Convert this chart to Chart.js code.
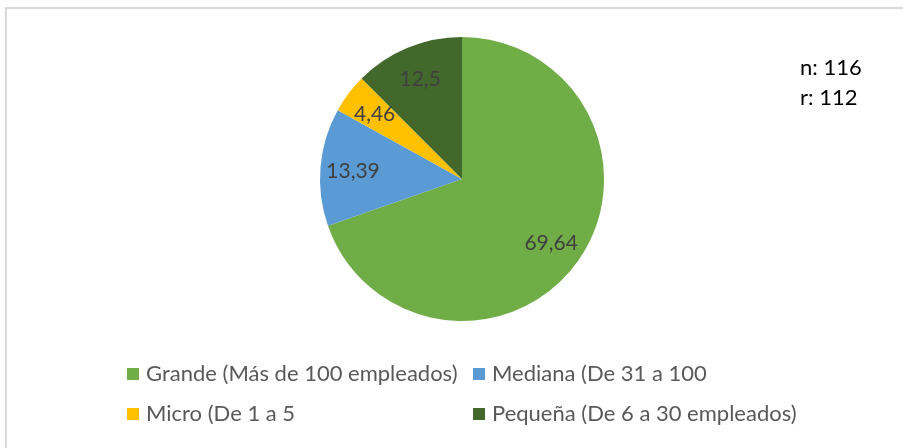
<!DOCTYPE html>
<html>
<head>
<meta charset="utf-8">
<script src="https://cdn.jsdelivr.net/npm/chart.js@4.4.0/dist/chart.umd.min.js"></script>
<style>
  html, body { margin: 0; padding: 0; background: #fff; overflow: hidden; }
  #wrap { position: relative; width: 903px; height: 448px; }
  #frame { position: absolute; left: 5px; top: 7px; width: 1000px; height: 1000px;
           border-left: 2px solid #d9d9d9; border-top: 2px solid #d9d9d9; }
  canvas { position: absolute; left: 0; top: 0; }
</style>
</head>
<body>
<div id="wrap">
  <div id="frame"></div>
  <canvas id="myChart" width="903" height="448"></canvas>
</div>
<script>
// pie data
var categories = ['Grande (Más de 100 empleados)', 'Mediana (De 31 a 100', 'Micro (De 1 a 5', 'Pequeña (De 6 a 30 empleados)'];
var values = [69.64, 13.39, 4.46, 12.5];
var valueLabels = ['69,64', '13,39', '4,46', '12,5'];
var colors = ['#70ad47', '#5b9bd5', '#ffc000', '#43682b'];
var notes = ['n: 116', 'r: 112'];

var fontFamily = 'Lato, "Open Sans", sans-serif';

// labels inside the slices
var sliceLabels = {
    id: 'sliceLabels',
    afterDatasetsDraw: function(chart) {
        var c = chart.ctx;
        var meta = chart.getDatasetMeta(0);
        c.save();
        c.font = '21px ' + fontFamily;
        c.fillStyle = '#404040';
        c.textAlign = 'center';
        c.textBaseline = 'middle';
        meta.data.forEach(function(arc, i) {
            var p = arc.getProps(['x', 'y', 'startAngle', 'endAngle', 'outerRadius'], true);
            var mid = (p.startAngle + p.endAngle) / 2;
            var r = p.outerRadius * 0.77;
            c.fillText(valueLabels[i], p.x + Math.cos(mid) * r, p.y + Math.sin(mid) * r + 1);
        });
        c.restore();
    }
};

// legend in two columns, drawn below the pie
var gridLegend = {
    id: 'gridLegend',
    afterDraw: function(chart) {
        var c = chart.ctx;
        var cols = [127, 473];
        var rows = [374, 414];
        c.save();
        c.font = '22px ' + fontFamily;
        c.textBaseline = 'middle';
        c.textAlign = 'left';
        categories.forEach(function(name, i) {
            var x = cols[i % 2];
            var y = rows[Math.floor(i / 2)];
            c.fillStyle = colors[i];
            c.fillRect(x, y - 6, 12, 12);
            c.fillStyle = '#595959';
            c.fillText(name, x + 19, y);
        });
        // n / r notes
        c.fillStyle = '#000';
        c.font = '22px ' + fontFamily;
        notes.forEach(function(t, i) {
            c.fillText(t, 800, 68 + i * 30);
        });
        c.restore();
    }
};

var ctx = document.getElementById('myChart').getContext('2d');
var myChart = new Chart(ctx, {
    type: 'pie',
    data: {
        labels: categories,
        datasets: [{
            data: values,
            backgroundColor: colors,
            borderWidth: 0
        }]
    },
    options: {
        responsive: false,
        animation: false,
        layout: { padding: { left: 320, right: 299, top: 37, bottom: 127 } },
        plugins: {
            legend: { display: false },
            tooltip: { enabled: false }
        }
    },
    plugins: [sliceLabels, gridLegend]
});
</script>
</body>
</html>
